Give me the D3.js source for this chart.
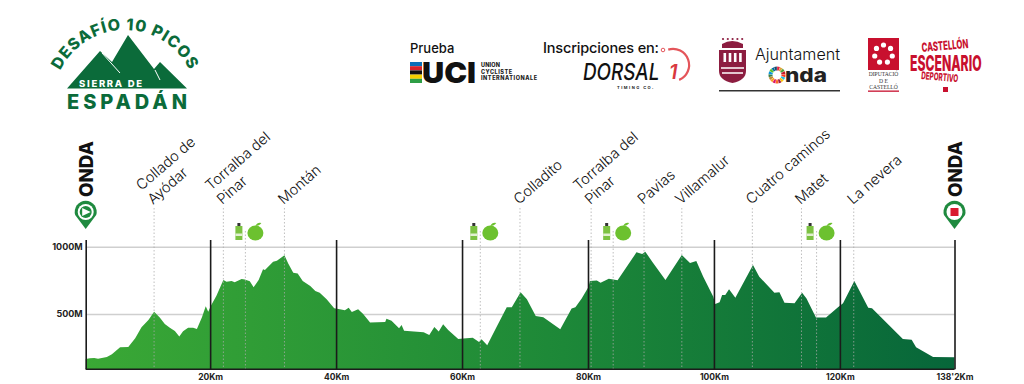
<!DOCTYPE html>
<html>
<head>
<meta charset="utf-8">
<script src="https://cdn.jsdelivr.net/npm/d3@7"></script>
<style>
  html, body { margin: 0; background: #fff; }
  svg { display: block; font-family: Inter, "Open Sans", sans-serif; }
</style>
</head>
<body>
<div id="app"></div>
<script>
const profileKm = [0.24, 0.9, 1.6, 2.2, 3.6, 4.4, 5.7, 7, 8.1, 9.1, 10.2, 11.1, 12, 12.8, 13.6, 14.4, 15.1, 15.7, 16.5, 17.3, 17.9, 18.7, 19.3, 19.7, 20.1, 21, 22.1, 22.6, 23.4, 23.9, 25, 25.5, 26.3, 26.9, 27.7, 28.4, 28.7, 30, 30.6, 31.8, 32.4, 33.2, 33.9, 34.7, 35.9, 36.7, 37.4, 38.5, 39.7, 40.6, 41.4, 42, 42.5, 43.5, 44.3, 45.4, 47.8, 48, 48.8, 50, 50.4, 50.8, 53.9, 54.8, 55.6, 56.3, 57, 57.8, 59.4, 60.2, 61.7, 62.7, 63.1, 64, 65.5, 67.1, 67.9, 69.3, 70.3, 71.7, 72.9, 75.6, 77.4, 78, 79, 80.1, 80.3, 81.4, 82, 83.3, 84.7, 87.7, 88.6, 89.1, 90.2, 92.3, 94.9, 96.2, 97.2, 98.3, 99.9, 100.2, 100.9, 101.3, 101.8, 102.4, 103.4, 106.2, 107.2, 109.6, 110.4, 111.2, 112.8, 114, 114.7, 116.2, 117.8, 119.7, 120.5, 122.3, 124.5, 125.1, 130, 131.4, 132.1, 134.8, 138.2];
const profileElev = [165, 171, 173, 168, 181, 200, 252, 255, 319, 401, 455, 517, 473, 426, 398, 374, 332, 371, 398, 398, 389, 475, 557, 517, 559, 636, 752, 740, 745, 735, 760, 757, 743, 698, 752, 832, 827, 889, 896, 936, 876, 807, 800, 745, 708, 671, 658, 609, 542, 535, 527, 547, 515, 535, 500, 436, 441, 465, 450, 394, 418, 376, 364, 344, 403, 369, 423, 381, 314, 317, 324, 292, 312, 267, 406, 550, 550, 661, 609, 485, 475, 386, 540, 550, 616, 703, 745, 748, 733, 762, 750, 958, 946, 963, 889, 753, 938, 879, 894, 777, 629, 574, 587, 641, 641, 683, 621, 864, 777, 658, 661, 584, 579, 658, 616, 473, 473, 550, 579, 745, 547, 542, 314, 309, 252, 181, 178];

const kmTicks = [0.24, 20, 40, 60, 80, 100, 120, 138.2];
const kmTickLabels = ['', '20Km', '40Km', '60Km', '80Km', '100Km', '120Km', "138'2Km"];
const elevTicks = [500, 1000];

const passKm = [11.1, 22.1, 31.8, 69.2, 80.5, 88.9, 94.9, 106.1, 113.9, 122.2];
const passNames = [
  ['Collado de', 'Ayódar'], ['Torralba del', 'Pinar'], ['Montán'],
  ['Colladito'], ['Torralba del', 'Pinar'], ['Pavias'], ['Villamalur'],
  ['Cuatro caminos'], ['Matet'], ['La nevera']
];
const feedKm = [25.6, 62.9, 84, 116.3];

const sdgColors = ['#e5243b', '#dda63a', '#4c9f38', '#c5192d', '#ff3a21', '#26bde2', '#fcc30b', '#a21942', '#fd6925', '#dd1367', '#fd9d24', '#bf8b2e', '#3f7e44', '#0a97d9', '#56c02b', '#00689d', '#19486a'];
const uciColors = ['#0b6fb8', '#d8232a', '#111111', '#f5d000', '#2e9e46'];

const width = 1024;
const height = 384;
const dark = '#0b6b3a';

const svg = d3.select('#app').append('svg')
  .attr('width', width)
  .attr('height', height)
  .attr('viewBox', `0 0 ${width} ${height}`);

const x = d3.scaleLinear().domain([0.24, 138.2]).range([85.7, 954.5]);
const y = d3.scaleLinear().domain([89, 1000]).range([369.3, 246.7]);

const defs = svg.append('defs');
const grad = defs.append('linearGradient').attr('id', 'profileFill')
  .attr('gradientUnits', 'userSpaceOnUse')
  .attr('x1', x(0.24)).attr('x2', x(138.2)).attr('y1', 0).attr('y2', 0);
grad.append('stop').attr('offset', '0%').attr('stop-color', '#3aa835');
grad.append('stop').attr('offset', '55%').attr('stop-color', '#1d8838');
grad.append('stop').attr('offset', '100%').attr('stop-color', '#07663a');

/* grid lines and left labels */
svg.append('g')
  .attr('transform', `translate(${x(0.24)}, 0)`)
  .call(d3.axisLeft(y).tickValues(elevTicks).tickSize(-(x(138.2) - x(0.24))).tickFormat(d => d + 'M').tickPadding(3))
  .call(g => g.select('.domain').remove())
  .call(g => g.selectAll('line').attr('stroke', '#cfcfcf').attr('stroke-width', 1.5))
  .call(g => g.selectAll('text').attr('font-size', 9).attr('font-weight', 700).attr('fill', '#222').attr('font-family', 'Inter'));

/* profile */
const area = d3.area()
  .x((d, i) => x(profileKm[i]))
  .y0(y(89))
  .y1(d => y(d));

svg.append('path')
  .datum(profileElev)
  .attr('d', area)
  .attr('fill', 'url(#profileFill)');

/* dotted lines for passes and feed zones */
svg.append('g').selectAll('line')
  .data(passKm)
  .join('line')
  .attr('x1', d => x(d)).attr('x2', d => x(d))
  .attr('y1', 208).attr('y2', y(89))
  .attr('stroke', 'rgba(170,170,170,.75)')
  .attr('stroke-dasharray', '1.5 2');

svg.append('g').selectAll('line')
  .data(feedKm)
  .join('line')
  .attr('x1', d => x(d)).attr('x2', d => x(d))
  .attr('y1', 231).attr('y2', y(89))
  .attr('stroke', 'rgba(170,170,170,.75)')
  .attr('stroke-dasharray', '1.5 2');

/* km axis, ticks go up as the black verticals */
svg.append('g')
  .attr('transform', `translate(0, ${y(89)})`)
  .call(d3.axisBottom(x).tickValues(kmTicks).tickSize(-(y(89) - 240)).tickPadding(5).tickFormat((d, i) => kmTickLabels[i]))
  .call(g => g.select('.domain').attr('stroke', '#1b1b1b').attr('stroke-width', 1.5).attr('d', `M${x(0.24)},0H${x(138.2)}`))
  .call(g => g.selectAll('line').attr('stroke', '#1b1b1b').attr('stroke-width', 1.6))
  .call(g => g.selectAll('text').attr('font-size', 8.5).attr('font-weight', 700).attr('fill', '#222').attr('font-family', 'Inter'));

/* pass names */
passKm.forEach((km, i) => {
  const lines = passNames[i];
  lines.forEach((line, j) => {
    const fromEnd = lines.length - 1 - j;
    svg.append('text')
      .attr('transform', `translate(${x(km) - 1 - fromEnd * 11.5}, ${205 - fromEnd * 14}) rotate(-41)`)
      .attr('font-size', 14.5)
      .attr('font-weight', 300)
      .attr('fill', '#111')
      .text(line);
  });
});

/* feed zone icons */
feedKm.forEach(km => {
  const g = svg.append('g').attr('transform', `translate(${x(km)}, 232)`);
  g.append('rect').attr('x', -10).attr('y', -6).attr('width', 7).attr('height', 14).attr('fill', '#7cc242');
  g.append('rect').attr('x', -10).attr('y', 1.5).attr('width', 7).attr('height', 2.5).attr('fill', '#e2f0d2');
  g.append('rect').attr('x', -8).attr('y', -9).attr('width', 3).attr('height', 3).attr('fill', '#333');
  g.append('ellipse').attr('cx', 10).attr('cy', 1).attr('rx', 8).attr('ry', 7.5).attr('fill', '#6cc12f');
  g.append('path').attr('d', 'M10,-6 Q12,-10 16,-9 Q14,-6 10,-6Z').attr('fill', '#6cc12f');
});

/* start and finish */
function pin(km, kind) {
  const cx = x(km);
  const g = svg.append('g').attr('transform', `translate(${cx}, 212)`);
  g.append('path').attr('d', 'M-10.5,3 A11,11 0 1 1 10.5,3 L0,17 Z').attr('fill', '#1f8a3f');
  g.append('circle').attr('r', 8).attr('fill', '#fff');
  if (kind === 'start') {
    g.append('circle').attr('r', 6).attr('fill', '#1f8a3f');
    g.append('path').attr('d', 'M-3.5,-4 L5,0 L-3.5,4 Z').attr('fill', '#fff');
  } else {
    g.append('rect').attr('x', -4).attr('y', -4).attr('width', 8).attr('height', 8).attr('fill', '#d8192f');
  }
  svg.append('text')
    .attr('transform', `translate(${cx + 7}, 197) rotate(-90)`)
    .attr('font-size', 19).attr('font-weight', 800).attr('fill', '#111')
    .attr('textLength', 56).attr('lengthAdjust', 'spacingAndGlyphs')
    .text('ONDA');
}
pin(0.24, 'start');
pin(138.2, 'finish');

/* event logo */
const logo = svg.append('g');
logo.append('path')
  .attr('d', 'M67,88.5 L100,51 L112,62 L128,35 L154,69 L160,62 L187,88.5 Z')
  .attr('fill', dark);
logo.append('path').attr('d', 'M102,53 L120,73').attr('stroke', '#fff').attr('stroke-width', 1).attr('fill', 'none');
logo.append('path').attr('d', 'M155,70 L160,80').attr('stroke', '#fff').attr('stroke-width', 1).attr('fill', 'none');
defs.append('path').attr('id', 'logoArc')
  .attr('d', 'M53,102 A72,72 0 0 1 197,102');
logo.append('text').attr('font-size', 16).attr('font-weight', 800).attr('fill', dark).attr('letter-spacing', 1)
  .append('textPath').attr('href', '#logoArc').attr('startOffset', '50%').attr('text-anchor', 'middle')
  .text('DESAFÍO 10 PICOS');
logo.append('text').attr('x', 79).attr('y', 86.5).attr('font-size', 9.5).attr('font-weight', 800).attr('fill', '#fff')
  .attr('textLength', 63).text('SIERRA DE');
logo.append('text').attr('x', 67).attr('y', 109).attr('font-size', 20).attr('font-weight', 800).attr('fill', dark)
  .attr('textLength', 120).text('ESPADÁN');

/* UCI */
svg.append('text').attr('x', 410).attr('y', 53).attr('font-size', 13).attr('font-weight', 500).attr('fill', '#111').text('Prueba');
uciColors.forEach((c, i) => {
  svg.append('rect').attr('x', 410).attr('y', 62 + i * 4.2).attr('width', 12).attr('height', 4.2).attr('fill', c);
});
svg.append('text').attr('x', 422).attr('y', 83).attr('font-size', 29).attr('font-weight', 900).attr('fill', '#111')
  .attr('textLength', 54).attr('lengthAdjust', 'spacingAndGlyphs').text('UCI');
['UNION', 'CYCLISTE', 'INTERNATIONALE'].forEach((t, i) => {
  svg.append('text').attr('x', 481).attr('y', 67 + i * 6.6).attr('font-size', 5.5).attr('font-weight', 800).attr('fill', '#222')
    .attr('textLength', [19, 31, 56][i]).text(t);
});

/* Dorsal1 */
svg.append('text').attr('x', 543).attr('y', 53).attr('font-size', 14.5).attr('font-weight', 500).attr('fill', '#111')
  .attr('textLength', 116).text('Inscripciones en:');
svg.append('path').attr('d', d3.arc()({ innerRadius: 15, outerRadius: 17.2, startAngle: -0.3, endAngle: 2.75 })).attr('transform', 'translate(673,65)').attr('fill', '#e4555a');
svg.append('circle').attr('cx', 663).attr('cy', 50).attr('r', 1.8).attr('fill', 'none').attr('stroke', '#e4555a');
svg.append('text').attr('transform', 'translate(583,80) scale(.82,1)').attr('font-size', 23).attr('font-weight', 500).attr('font-style', 'italic').attr('fill', '#111')
  .text('DORSAL');
svg.append('text').attr('x', 669).attr('y', 79).attr('font-size', 20).attr('font-weight', 600).attr('font-style', 'italic').attr('fill', '#d9383f').text('1');
svg.append('text').attr('x', 617).attr('y', 89).attr('font-size', 4).attr('font-weight', 700).attr('fill', '#222').attr('letter-spacing', 1.5).text('TIMING CO.');

/* Ajuntament */
const crest = svg.append('g').attr('fill', '#8c1d40');
crest.append('path').attr('d', 'M719,50 H746 V71 Q746,80 732.5,83 Q719,80 719,71 Z');
crest.append('path').attr('d', 'M722,44 Q732,38 743,44 L743,48 H722 Z');
d3.range(5).forEach(i => crest.append('circle').attr('cx', 723 + i * 4.8).attr('cy', 39).attr('r', 1.1));
d3.range(4).forEach(i => crest.append('rect').attr('x', 723.5 + i * 5.2).attr('y', 53).attr('width', 2.6).attr('height', 9).attr('fill', '#fff'));
crest.append('path').attr('d', 'M721,68 H744 M722,73 H743').attr('stroke', '#fff').attr('stroke-width', 1.5).attr('fill', 'none');
svg.append('text').attr('x', 755).attr('y', 59.5).attr('font-size', 16.5).attr('font-weight', 300).attr('fill', '#111')
  .attr('textLength', 85).attr('lengthAdjust', 'spacingAndGlyphs').text('Ajuntament');
const wheel = d3.pie().value(1).padAngle(0.03)(sdgColors);
svg.append('g').attr('transform', 'translate(777,75)').selectAll('path')
  .data(wheel).join('path')
  .attr('d', d3.arc().innerRadius(4.5).outerRadius(8.5))
  .attr('fill', d => d.data);
svg.append('text').attr('x', 785).attr('y', 82).attr('font-size', 19).attr('font-weight', 800).attr('fill', '#222')
  .attr('textLength', 42).attr('lengthAdjust', 'spacingAndGlyphs').text('nda');
svg.append('rect').attr('x', 719).attr('y', 90).attr('width', 121).attr('height', 1.5).attr('fill', '#333');

/* Diputacio */
const red = '#c8102e';
svg.append('rect').attr('x', 868).attr('y', 38).attr('width', 31).attr('height', 32).attr('fill', red);
d3.range(7).forEach(i => {
  const a = i / 7 * 2 * Math.PI;
  svg.append('circle').attr('cx', 883.5 + 9 * Math.sin(a)).attr('cy', 54 - 9 * Math.cos(a)).attr('r', 2.6).attr('fill', '#fff');
});
['DIPUTACIÓ', 'D          E', 'CASTELLÓ'].forEach((t, i) => {
  svg.append('text').attr('x', 883.5).attr('y', 76 + i * 6.7).attr('text-anchor', 'middle')
    .attr('font-size', 5.6).attr('font-family', '"Liberation Serif"').attr('fill', '#333').text(t);
});
svg.append('rect').attr('x', 868).attr('y', 90.5).attr('width', 31).attr('height', 1.3).attr('fill', red);

svg.append('text').attr('transform', 'translate(922,52) rotate(-5) scale(.62,1)').attr('font-size', 12.5).attr('font-weight', 800).attr('fill', red)
  .text('CASTELLÓN');
svg.append('text').attr('transform', 'translate(910,71) scale(.58,1)').attr('font-size', 21).attr('font-weight', 800).attr('fill', red)
  .text('ESCENARIO');
svg.append('text').attr('transform', 'translate(921,79) rotate(5) scale(.6,1)').attr('font-size', 10.5).attr('font-weight', 800).attr('fill', red)
  .text('DEPORTIVO');
svg.append('rect').attr('x', 943).attr('y', 87).attr('width', 5).attr('height', 5).attr('fill', red);
</script>
</body>
</html>
